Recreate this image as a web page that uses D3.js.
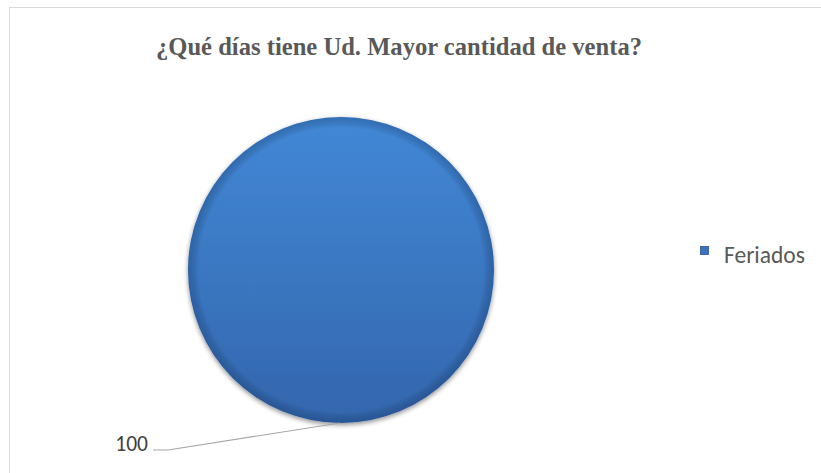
<!DOCTYPE html>
<html><head><meta charset="utf-8">
<script src="https://cdn.jsdelivr.net/npm/d3@7"></script>
<style>html,body{margin:0;padding:0;background:#fff;}svg{display:block;}</style>
</head><body>
<svg id="chart" width="821" height="473"></svg>
<script>
const title = "¿Qué días tiene Ud. Mayor cantidad de venta?";
const categories = ["Feriados"];
const values = [100];

const svg = d3.select("#chart");

// chart area border
svg.append("rect").attr("x", 9.5).attr("y", 7.5).attr("width", 830).attr("height", 480)
  .attr("fill", "#fff").attr("stroke", "#d9d9d9").attr("stroke-width", 1);

svg.append("text").attr("x", 399).attr("y", 55).attr("text-anchor", "middle")
  .attr("font-family", "Liberation Serif, Times New Roman, serif").attr("font-weight", "bold")
  .attr("font-size", 24.6).attr("fill", "#595959").text(title);

const defs = svg.append("defs");
const lg = defs.append("linearGradient").attr("id", "fillG").attr("x1", 0).attr("y1", 0).attr("x2", 0).attr("y2", 1);
lg.append("stop").attr("offset", "0%").attr("stop-color", "#4288d6");
lg.append("stop").attr("offset", "100%").attr("stop-color", "#3366ad");
const rg = defs.append("radialGradient").attr("id", "edgeG");
rg.append("stop").attr("offset", "93%").attr("stop-color", "#000").attr("stop-opacity", 0);
rg.append("stop").attr("offset", "100%").attr("stop-color", "#0a2a5a").attr("stop-opacity", 0.28);
const sh = defs.append("filter").attr("id", "shadow").attr("x", "-10%").attr("y", "-10%").attr("width", "120%").attr("height", "125%");
sh.append("feGaussianBlur").attr("in", "SourceAlpha").attr("stdDeviation", 2.5).attr("result", "b");
sh.append("feOffset").attr("in", "b").attr("dy", 2).attr("result", "o");
sh.append("feComponentTransfer").attr("in", "o").attr("result", "o2")
  .append("feFuncA").attr("type", "linear").attr("slope", 0.45);
const m = sh.append("feMerge");
m.append("feMergeNode").attr("in", "o2");
m.append("feMergeNode").attr("in", "SourceGraphic");

const cx = 341, cy = 270, R = 153;
const pie = d3.pie().sort(null).value(d => d)(values);
const arc = d3.arc().innerRadius(0).outerRadius(R);
const g = svg.append("g").attr("transform", `translate(${cx},${cy})`);
g.selectAll("path.slice").data(pie).join("path").attr("class", "slice")
  .attr("d", arc).attr("fill", "url(#fillG)").attr("filter", "url(#shadow)");
g.selectAll("path.edge").data(pie).join("path").attr("class", "edge")
  .attr("d", arc).attr("fill", "url(#edgeG)");

// data label with leader line from the bottom of the pie
const ang = Math.PI;
const p0 = [R * Math.sin(ang) - 1, -R * Math.cos(ang)];
svg.append("polyline")
  .attr("points", `${cx + p0[0]},${cy + p0[1]} 168,450 153,450`)
  .attr("fill", "none").attr("stroke", "#a6a6a6").attr("stroke-width", 1.2);
svg.append("text").attr("x", 148).attr("y", 451).attr("text-anchor", "end")
  .attr("font-family", "Carlito, Lato, Open Sans, sans-serif").attr("font-size", 21.5)
  .attr("fill", "#404040").text(values[0]);

// legend
const lgd = svg.append("g");
lgd.append("rect").attr("x", 700.5).attr("y", 246.5).attr("width", 8).attr("height", 8)
  .attr("fill", "#3a72bd").attr("stroke", "#2a5590").attr("stroke-width", 0.8);
lgd.append("text").attr("x", 724).attr("y", 263)
  .attr("font-family", "Carlito, Lato, Open Sans, sans-serif").attr("font-size", 23.5)
  .attr("fill", "#595959").text(categories[0]);
</script>
</body></html>
